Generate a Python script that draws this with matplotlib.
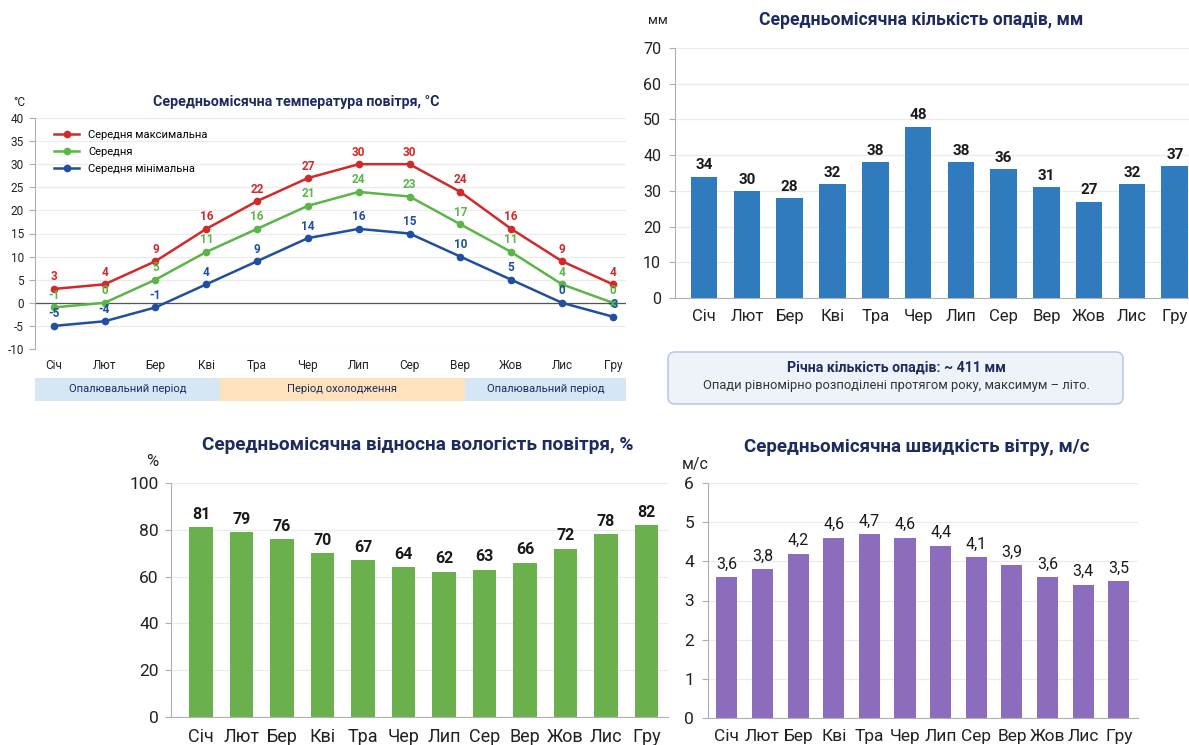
import matplotlib
matplotlib.use("Agg")
import matplotlib.pyplot as plt
from matplotlib.patches import FancyBboxPatch
from matplotlib.transforms import IdentityTransform

plt.rcParams['font.family'] = ['Roboto', 'DejaVu Sans']
plt.rcParams['axes.unicode_minus'] = False

months = ['Січ', 'Лют', 'Бер', 'Кві', 'Тра', 'Чер', 'Лип', 'Сер', 'Вер', 'Жов', 'Лис', 'Гру']

temp_max = [3, 4, 9, 16, 22, 27, 30, 30, 24, 16, 9, 4]
temp_mean = [-1, 0, 5, 11, 16, 21, 24, 23, 17, 11, 4, 0]
temp_min = [-5, -4, -1, 4, 9, 14, 16, 15, 10, 5, 0, -3]

precip = [34, 30, 28, 32, 38, 48, 38, 36, 31, 27, 32, 37]
humidity = [81, 79, 76, 70, 67, 64, 62, 63, 66, 72, 78, 82]
wind = [3.6, 3.8, 4.2, 4.6, 4.7, 4.6, 4.4, 4.1, 3.9, 3.6, 3.4, 3.5]

period_names = ['Опалювальний період', 'Період охолодження', 'Опалювальний період']
period_edges = [-0.37, 3.27, 8.09, 11.26]
period_colors = ['#d5e7f5', '#fde2bb', '#d5e7f5']

W, H = 1189, 745
NAVY = '#1d2b5e'
GRID = '#ebebeb'
SPINE = '#b0b0b0'

fig = plt.figure(figsize=(W / 100, H / 100), dpi=100)
fig.patch.set_facecolor('white')


def px_axes(x0, y0, x1, y1):
    return fig.add_axes([x0 / W, 1 - y1 / H, (x1 - x0) / W, (y1 - y0) / H])


def style_axes(ax, fs_y, fs_x, pad_y, pad_x):
    for s in ['top', 'right']:
        ax.spines[s].set_visible(False)
    ax.spines['left'].set_color(SPINE)
    ax.spines['bottom'].set_color(SPINE)
    ax.grid(axis='y', color=GRID, linewidth=0.9)
    ax.set_axisbelow(True)
    ax.tick_params(axis='y', length=4, color=SPINE, labelsize=fs_y, pad=pad_y, labelcolor='#222222')
    ax.tick_params(axis='x', length=0, labelsize=fs_x, pad=pad_x, labelcolor='#222222')


x = list(range(12))

# --- temperature ---
ax_t = px_axes(35, 118, 626, 349)
style_axes(ax_t, 8.5, 8.5, 4, 7)
ax_t.set_xlim(-0.37, 11.26)
ax_t.set_ylim(-10, 40)
ax_t.set_yticks(range(-10, 41, 5))
ax_t.set_xticks(x)
ax_t.set_xticklabels(months)
ax_t.spines['bottom'].set_visible(False)
ax_t.axhline(0, color='#555555', linewidth=0.9, zorder=1)

series = [
    (temp_max, '#d12a2a', 'Середня максимальна'),
    (temp_mean, '#5cb548', 'Середня'),
    (temp_min, '#1f4f9e', 'Середня мінімальна'),
]
for vals, col, name in series:
    ax_t.plot(x, vals, color=col, linewidth=1.8, marker='o', markersize=4.5, label=name, zorder=3)
    for xi, v in zip(x, vals):
        ax_t.annotate(str(v), (xi, v), xytext=(0, 4), textcoords='offset points',
                      ha='center', va='bottom', fontsize=8.5, color=col, fontweight='bold')
leg = ax_t.legend(loc='upper left', bbox_to_anchor=(0.015, 0.99), frameon=False, fontsize=8,
                  handlelength=2.3, labelspacing=0.6, handletextpad=0.8)
fig.text(13 / W, 1 - 102 / H, '°C', fontsize=8.5, ha='left', va='center', color='#222222')
fig.text(296 / W, 1 - 102 / H, 'Середньомісячна температура повітря, °C', fontsize=10.3,
         fontweight='bold', ha='center', va='center', color=NAVY)

ax_p_band = px_axes(35, 378, 626, 401)
ax_p_band.set_xlim(ax_t.get_xlim())
ax_p_band.set_ylim(0, 1)
ax_p_band.axis('off')
for name, a, b, c in zip(period_names, period_edges[:-1], period_edges[1:], period_colors):
    ax_p_band.axvspan(a, b, color=c, lw=0)
    ax_p_band.text((a + b) / 2, 0.5, name, ha='center', va='center', fontsize=8, color=NAVY)

# --- precipitation ---
ax_r = px_axes(675, 48, 1200, 298)
style_axes(ax_r, 11.5, 12, 6, 8)
ax_r.set_xlim(-0.68, 11.59)
ax_r.set_ylim(0, 70)
ax_r.set_yticks(range(0, 71, 10))
bars = ax_r.bar(x, precip, width=0.62, color='#2f7bbd', zorder=2)
ax_r.set_xticks(x)
ax_r.set_xticklabels(months)
for xi, v in zip(x, precip):
    ax_r.annotate(str(v), (xi, v), xytext=(0, 3), textcoords='offset points', ha='center',
                  va='bottom', fontsize=11, fontweight='bold', color='#1a1a1a')
fig.text(648 / W, 1 - 21 / H, 'мм', fontsize=9.5, ha='left', va='center', color='#222222')
fig.text(921 / W, 1 - 20 / H, 'Середньомісячна кількість опадів, мм', fontsize=12.7,
         fontweight='bold', ha='center', va='center', color=NAVY)

box = FancyBboxPatch((668, H - 404), 455, 52, boxstyle='round,pad=0,rounding_size=7',
                     transform=IdentityTransform(), facecolor='#eef3f9', edgecolor='#bccbe0',
                     linewidth=1.2)
fig.add_artist(box)
fig.text(896 / W, 1 - 368 / H, 'Річна кількість опадів: ~ ' + str(sum(precip)) + ' мм',
         fontsize=10.2, fontweight='bold', ha='center', va='center', color=NAVY)
fig.text(896 / W, 1 - 386 / H, 'Опади рівномірно розподілені протягом року, максимум – літо.',
         fontsize=9.3, ha='center', va='center', color='#333333')

# --- humidity ---
ax_h = px_axes(171, 483, 668, 717)
style_axes(ax_h, 12.5, 13, 5, 8)
ax_h.set_xlim(-0.74, 11.53)
ax_h.set_ylim(0, 100)
ax_h.set_yticks(range(0, 101, 20))
ax_h.bar(x, humidity, width=0.57, color='#6ab04c', zorder=2)
ax_h.set_xticks(x)
ax_h.set_xticklabels(months)
for xi, v in zip(x, humidity):
    ax_h.annotate(str(v), (xi, v), xytext=(0, 4), textcoords='offset points', ha='center',
                  va='bottom', fontsize=11.5, fontweight='bold', color='#1a1a1a')
fig.text(146 / W, 1 - 462 / H, '%', fontsize=12, ha='left', va='center', color='#222222')
fig.text(418 / W, 1 - 445 / H, 'Середньомісячна відносна вологість повітря, %', fontsize=13.7,
         fontweight='bold', ha='center', va='center', color=NAVY)

# --- wind ---
ax_w = px_axes(708, 483, 1138, 718)
style_axes(ax_w, 12.5, 12.5, 6, 8)
ax_w.set_xlim(-0.53, 11.54)
ax_w.set_ylim(0, 6)
ax_w.set_yticks(range(0, 7))
ax_w.bar(x, wind, width=0.59, color='#8b6cbd', zorder=2)
ax_w.set_xticks(x)
ax_w.set_xticklabels(months)
for xi, v in zip(x, wind):
    ax_w.annotate(f'{v:.1f}'.replace('.', ','), (xi, v), xytext=(0, 4), textcoords='offset points',
                  ha='center', va='bottom', fontsize=11.5, color='#1a1a1a')
fig.text(682 / W, 1 - 465 / H, 'м/с', fontsize=11.5, ha='left', va='center', color='#222222')
fig.text(917 / W, 1 - 447 / H, 'Середньомісячна швидкість вітру, м/с', fontsize=13.5,
         fontweight='bold', ha='center', va='center', color=NAVY)

fig.savefig('out.png', dpi=100)
